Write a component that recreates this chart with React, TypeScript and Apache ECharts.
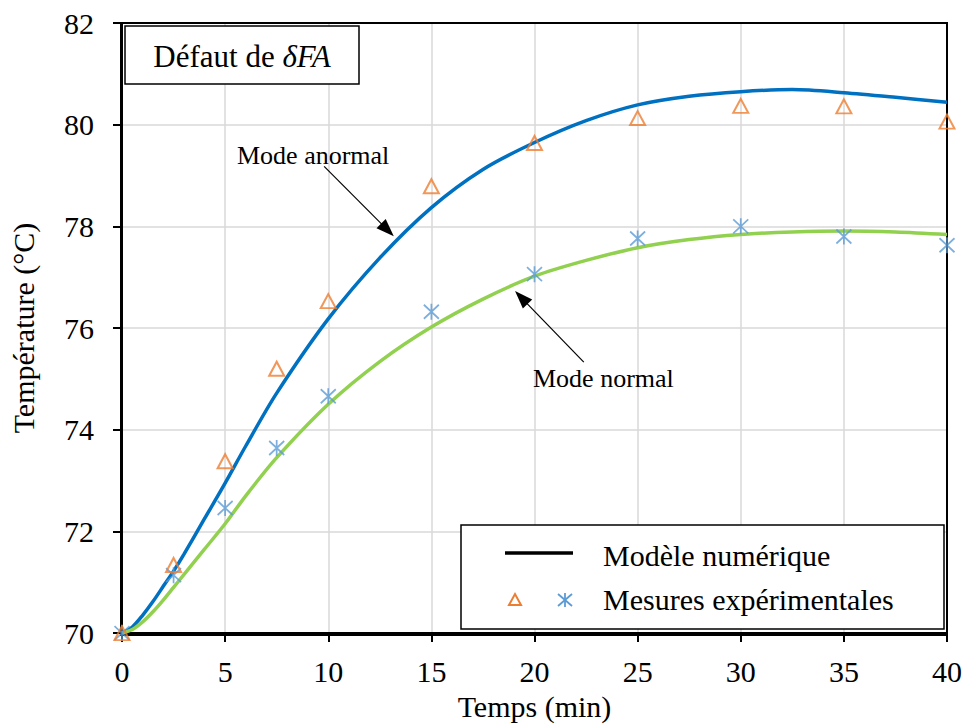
import React, { useEffect, useRef } from "react";
import * as echarts from "echarts";

// ---- Data ----
const modelTime = [0, 0.5, 1, 1.5, 2, 2.5, 3, 4, 5, 6, 7.5, 10, 12.5, 15, 17.5, 20, 22.5, 25, 27.5, 30, 32.5, 35, 37.5, 40];
const modelAnormal = [70, 70.12, 70.35, 70.62, 70.92, 71.22, 71.55, 72.25, 72.95, 73.68, 74.72, 76.18, 77.38, 78.37, 79.12, 79.65, 80.08, 80.39, 80.56, 80.65, 80.69, 80.63, 80.54, 80.44];
const modelNormal = [70, 70.07, 70.22, 70.42, 70.65, 70.9, 71.15, 71.65, 72.15, 72.7, 73.45, 74.5, 75.34, 76.02, 76.57, 77.02, 77.33, 77.58, 77.74, 77.84, 77.89, 77.91, 77.89, 77.84];

const measTime = [0, 2.5, 5, 7.5, 10, 15, 20, 25, 30, 35, 40];
const measAnormal = [70.0, 71.34, 73.38, 75.2, 76.53, 78.79, 79.64, 80.13, 80.37, 80.36, 80.06];
const measNormal = [70.0, 71.14, 72.46, 73.64, 74.66, 76.32, 77.06, 77.76, 78.0, 77.8, 77.63];

const xTicks = { min: 0, max: 40, interval: 5 };
const yTicks = { min: 70, max: 82, interval: 2 };

const FONT = "Liberation Serif, Times New Roman, serif";
const BLUE = "#0070C0";
const GREEN = "#92D050";
const ORANGE = "#ED7D31";
const LIGHTBLUE = "#5B9BD5";
const STAR = "path://M8,0L8,16M1,1L15,15M1,15L15,1";

export default function App() {
  const ref = useRef<HTMLDivElement>(null);
  useEffect(() => {
    if (!ref.current) return;
    const chart = echarts.init(ref.current, undefined, { renderer: "svg" });
    const zip = (xs: number[], ys: number[]) => xs.map((x, i) => [x, ys[i]]);
    const axisCommon = {
      type: "value",
      nameLocation: "middle",
      nameTextStyle: { fontSize: 30, color: "#000", fontFamily: FONT },
      axisLine: { show: true, onZero: false, lineStyle: { color: "#000", width: 2 } },
      axisTick: { show: true, inside: false, length: 9, lineStyle: { color: "#000", width: 2 } },
      splitLine: { show: true, lineStyle: { color: "#D9D9D9", width: 1.5 } },
    };
    chart.setOption({
      animation: false,
      backgroundColor: "#fff",
      textStyle: { fontFamily: FONT },
      grid: { left: 121, right: 21, top: 23, bottom: 91 },
      xAxis: {
        ...axisCommon,
        ...xTicks,
        name: "Temps (min)",
        nameGap: 55,
        axisLabel: { fontSize: 30, color: "#000", margin: 23, fontFamily: FONT },
      },
      yAxis: {
        ...axisCommon,
        ...yTicks,
        name: "Température (°C)",
        nameGap: 84,
        axisLabel: { fontSize: 30, color: "#000", margin: 28, fontFamily: FONT },
      },
      series: [
        {
          type: "line",
          name: "Modèle anormal",
          data: zip(modelTime, modelAnormal),
          smooth: 0.3,
          showSymbol: false,
          lineStyle: { color: BLUE, width: 3.5 },
          z: 3,
          markLine: {
            silent: true,
            animation: false,
            symbol: ["none", "triangle"],
            symbolSize: [13, 18],
            label: { show: false },
            lineStyle: { color: "#000", width: 1.2, type: "solid" },
            data: [
              [{ coord: [9.8, 79.18] }, { coord: [12.87, 77.93] }],
              [{ coord: [22.39, 75.33] }, { coord: [19.36, 76.6] }],
            ],
          },
        },
        {
          type: "line",
          name: "Modèle normal",
          data: zip(modelTime, modelNormal),
          smooth: 0.3,
          showSymbol: false,
          lineStyle: { color: GREEN, width: 3.5 },
          z: 3,
        },
        {
          type: "scatter",
          name: "Mesures normal",
          data: zip(measTime, measNormal),
          symbol: STAR,
          symbolSize: [15, 16],
          itemStyle: { color: LIGHTBLUE, borderColor: LIGHTBLUE, borderWidth: 1.8 },
          z: 4,
          clip: false,
        },
        {
          type: "scatter",
          name: "Mesures anormal",
          data: zip(measTime, measAnormal),
          symbol: "triangle",
          symbolSize: [15, 14],
          itemStyle: { color: "rgba(0,0,0,0)", borderColor: ORANGE, borderWidth: 2 },
          z: 5,
          clip: false,
        },
      ],
      graphic: [
        {
          type: "rect",
          z: 1,
          silent: true,
          shape: { x: 121, y: 23, width: 826, height: 612 },
          style: { fill: "none", stroke: "#000", lineWidth: 2 },
        },
        {
          type: "rect",
          z: 10,
          shape: { x: 125, y: 26, width: 234, height: 58 },
          style: { fill: "#fff", stroke: "#000", lineWidth: 1.5 },
        },
        {
          type: "text",
          z: 11,
          x: 242,
          y: 56,
          style: {
            text: "{n|Défaut de }{i|δFA}",
            align: "center",
            verticalAlign: "middle",
            rich: {
              n: { fontSize: 31, fontFamily: FONT, fill: "#000" },
              i: { fontSize: 31, fontFamily: FONT, fontStyle: "italic", fill: "#000" },
            },
          },
        },
        {
          type: "text",
          z: 11,
          x: 237,
          y: 155,
          style: { text: "Mode anormal", fontSize: 26, fontFamily: FONT, fill: "#000", verticalAlign: "middle" },
        },
        {
          type: "text",
          z: 11,
          x: 533,
          y: 378,
          style: { text: "Mode normal", fontSize: 26, fontFamily: FONT, fill: "#000", verticalAlign: "middle" },
        },
        {
          type: "rect",
          z: 10,
          shape: { x: 461, y: 525, width: 483, height: 104 },
          style: { fill: "#fff", stroke: "#000", lineWidth: 1.5 },
        },
        {
          type: "line",
          z: 11,
          shape: { x1: 505, y1: 553, x2: 573, y2: 553 },
          style: { stroke: "#000", lineWidth: 3.5 },
        },
        {
          type: "text",
          z: 11,
          x: 603,
          y: 555,
          style: { text: "Modèle numérique", fontSize: 30, fontFamily: FONT, fill: "#000", verticalAlign: "middle" },
        },
        {
          type: "polygon",
          z: 11,
          shape: { points: [[509, 605], [521, 605], [515, 594]] },
          style: { fill: "none", stroke: ORANGE, lineWidth: 2 },
        },
        {
          type: "polyline",
          z: 11,
          shape: { points: [[565, 593], [565, 607]] },
          style: { stroke: LIGHTBLUE, lineWidth: 1.8 },
        },
        {
          type: "polyline",
          z: 11,
          shape: { points: [[558, 594], [572, 606]] },
          style: { stroke: LIGHTBLUE, lineWidth: 1.8 },
        },
        {
          type: "polyline",
          z: 11,
          shape: { points: [[558, 606], [572, 594]] },
          style: { stroke: LIGHTBLUE, lineWidth: 1.8 },
        },
        {
          type: "text",
          z: 11,
          x: 603,
          y: 599,
          style: { text: "Mesures expérimentales", fontSize: 30, fontFamily: FONT, fill: "#000", verticalAlign: "middle" },
        },
      ],
    });
    return () => chart.dispose();
  }, []);
  return (
    <div
      ref={ref}
      style={{ position: "absolute", left: 0, top: 0, width: 968, height: 726, background: "#fff" }}
    />
  );
}
